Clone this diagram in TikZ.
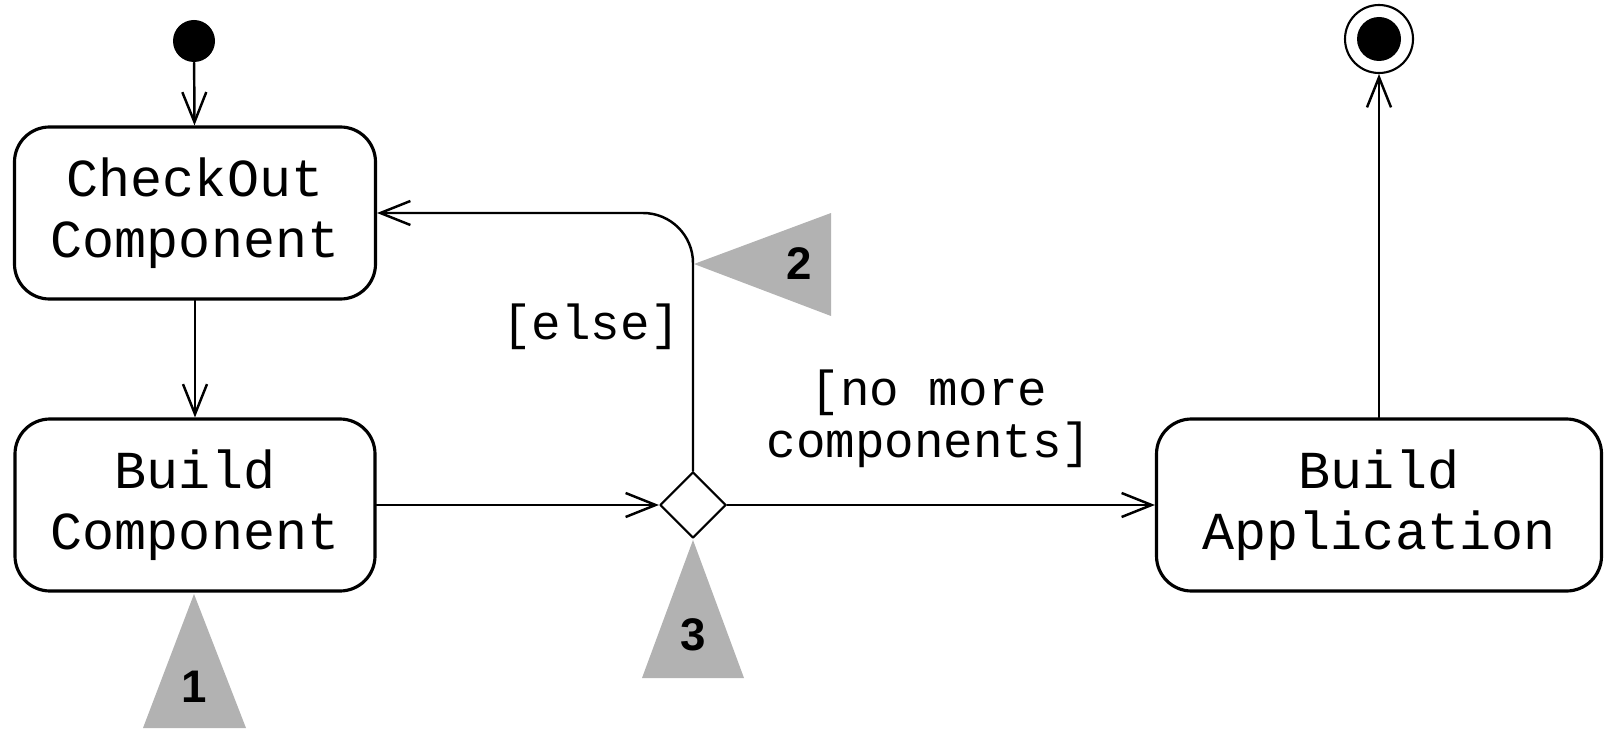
\documentclass[tikz,border=0pt]{standalone}
\usepackage{fontspec}
\setmonofont{Liberation Mono}
\newfontfamily\markfont{Liberation Sans}
\usetikzlibrary{arrows.meta,shapes.geometric}

\begin{document}
\begin{tikzpicture}[line cap=round,line join=round,>={Straight Barb[length=3mm,width=2.4mm]}
  ,x=0.1mm,y=-0.1mm
  ,activity/.style={draw,line width=0.9pt,rounded corners=3.5mm,inner sep=0pt
    ,minimum height=17.2mm,align=center,font=\ttfamily\fontsize{15.2}{17.4}\selectfont}
  ,guard/.style={align=center,font=\ttfamily\fontsize{14}{14.8}\selectfont}
  ,flow/.style={->,line width=0.7pt}
  ,marker/.style={fill=black!30}
  ,markno/.style={font=\markfont\bfseries\fontsize{13}{13}\selectfont}]
  \useasboundingbox (0,0) rectangle (1604,730);
  % states
  \node[circle,fill,inner sep=0pt,minimum size=4.2mm] (start) at (194,41) {};
  \node[activity,minimum width=36.1mm] (checkout) at (195,213) {CheckOut\\Component};
  \node[activity,minimum width=36mm] (buildcomp) at (195,505) {Build\\Component};
  \node[diamond,draw,fill=white,line width=0.6pt,inner sep=0pt
    ,minimum width=6.6mm,minimum height=6.6mm] (choice) at (693,505) {};
  \node[activity,minimum width=44.5mm] (buildapp) at (1379,505) {Build\\Application};
  \node[circle,draw,line width=0.6pt,inner sep=0pt,minimum size=6.8mm] (stop) at (1379,39) {};
  \node[circle,fill,inner sep=0pt,minimum size=4.4mm] (stopdot) at (stop) {};
  % transitions
  \draw[flow] (start) -- (checkout);
  \draw[flow] (checkout) -- (buildcomp);
  \draw[flow] (buildcomp) -- (choice);
  \draw[flow,rounded corners=5mm] (choice.north) |- (checkout.east);
  \draw[flow] (choice) -- (buildapp);
  \draw[flow] (buildapp.north) -- (stop.south);
  \node[guard] (elselbl) at (591,327) {[else]};
  \node[guard] (nomore) at (929,419) {[no more\\components]};
  % numbered markers
  \fill[marker] (194,594) -- (143,728) -- (246,728) -- cycle;
  \fill[marker] (694,264) -- (831,213) -- (831,316) -- cycle;
  \fill[marker] (693,540) -- (642,678) -- (744,678) -- cycle;
  \node[markno] (mark1) at (194,687) {1};
  \node[markno] (mark2) at (799,264) {2};
  \node[markno] (mark3) at (693,635) {3};
\end{tikzpicture}
\end{document}
